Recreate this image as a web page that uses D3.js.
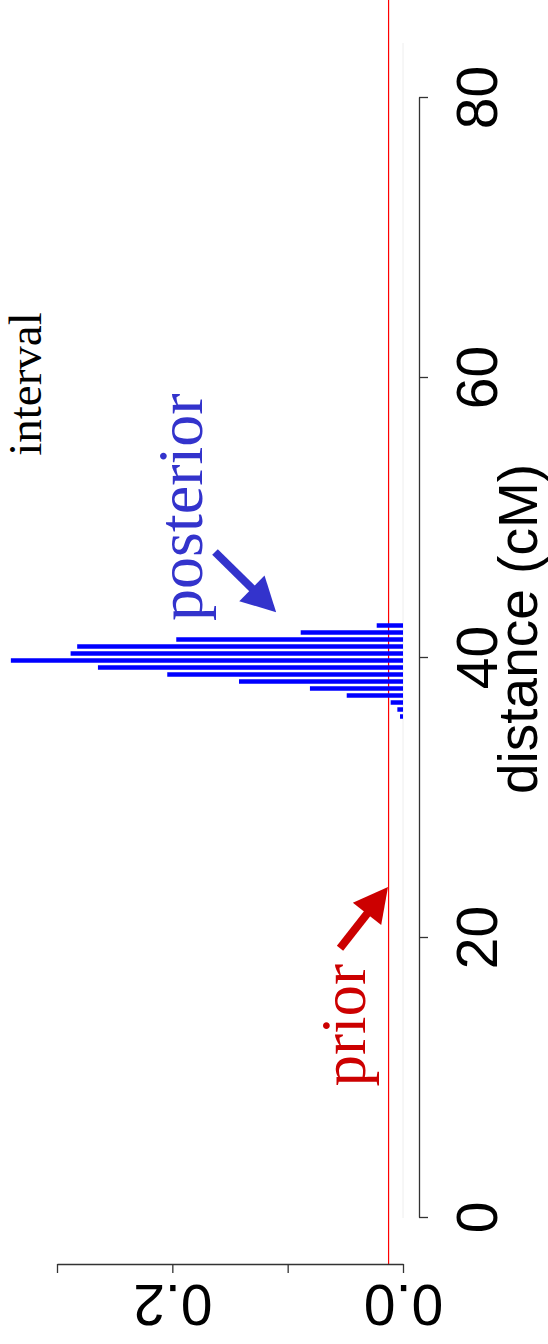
<!DOCTYPE html>
<html>
<head>
<meta charset="utf-8">
<script src="https://cdn.jsdelivr.net/npm/d3@7"></script>
<style>
  body { margin: 0; background: #fff; }
  svg { display: block; }
</style>
</head>
<body>
<svg id="chart" width="548" height="1344"></svg>
<script>
// posterior histogram, 0.5 cM bins (bin centres in cM)
const binCentres = [35.75, 36.25, 36.75, 37.25, 37.75, 38.25, 38.75, 39.25, 39.75, 40.25, 40.75, 41.25, 41.75, 42.25];
const posteriorDensity = [0.0026, 0.0049, 0.0107, 0.0488, 0.0807, 0.1422, 0.2044, 0.2645, 0.340, 0.2882, 0.2825, 0.1966, 0.0887, 0.0228];
// uniform prior over 0-80 cM
const priorDensity = 1 / 80;

const distanceTicks = [0, 20, 40, 60, 80];
const densityTicks = [0, 0.1, 0.2, 0.3];
const densityLabels = ["0.0", "", "0.2", ""];

// annotation arrows in data units: [density, distance]
const arrows = [
    { name: "prior", from: [0.0546, 19.2], to: [0.013, 23.57], color: "#cc0000" },
    { name: "posterior", from: [0.163, 47.5], to: [0.110, 43.2], color: "#3333cc" }
];
const labels = [
    { text: "prior", density: 0.033, distance: 13.7, color: "#cc0000", size: 63 },
    { text: "posterior", density: 0.174, distance: 50.7, color: "#3333cc", size: 64 },
    { text: "interval", density: 0.314, distance: 59.5, color: "#000", size: 47 }
];

let svg = d3.select("#chart");

// distance runs up the page, density runs to the left
let y = d3.scaleLinear().domain([0, 80]).range([1217, 97]);
let x = d3.scaleLinear().domain([0, 0.3]).range([403, 57]);

const axisX = 419;
const axisY = 1264;

// faint histogram baseline
svg.append("line")
    .attr("x1", x(0)).attr("x2", x(0))
    .attr("y1", 43).attr("y2", 1218)
    .attr("stroke", "#eeeeee")
    .attr("stroke-width", 1);

// prior line
svg.append("line")
    .attr("x1", x(priorDensity)).attr("x2", x(priorDensity))
    .attr("y1", 0).attr("y2", axisY)
    .attr("stroke", "#ff0000")
    .attr("stroke-width", 1.2);

// posterior bars
svg.append("g")
    .selectAll("line")
    .data(binCentres)
    .join("line")
    .attr("x1", x(0))
    .attr("x2", (d, i) => x(posteriorDensity[i]))
    .attr("y1", d => y(d))
    .attr("y2", d => y(d))
    .attr("stroke", "#0000ff")
    .attr("stroke-width", 4.5);

// distance axis
let gy = svg.append("g")
    .attr("transform", `translate(${axisX},0)`)
    .call(d3.axisRight(y).tickValues(distanceTicks).tickSize(9).tickSizeOuter(0).tickFormat(d3.format("d")));

gy.selectAll("text")
    .attr("x", 0).attr("dy", 0)
    .attr("transform", "translate(78,0) rotate(-90)")
    .attr("text-anchor", "middle")
    .style("font-family", "'Liberation Sans', Arial, sans-serif")
    .style("font-size", "57px")
    .attr("fill", "#000");

// density axis
let gx = svg.append("g")
    .attr("transform", `translate(0,${axisY})`)
    .call(d3.axisBottom(x).tickValues(densityTicks).tickSize(9).tickSizeOuter(0).tickFormat((d, i) => densityLabels[i]));

gx.selectAll("text")
    .attr("y", 0).attr("dy", 0)
    .attr("transform", "translate(0,21) rotate(180)")
    .attr("text-anchor", "middle")
    .style("font-family", "'Liberation Sans', Arial, sans-serif")
    .style("font-size", "57px")
    .attr("fill", "#000");

svg.selectAll(".domain, .tick line")
    .attr("stroke", "#333")
    .attr("stroke-width", 1.3);

// axis title
svg.append("text")
    .attr("transform", `translate(537,629) rotate(-90)`)
    .attr("text-anchor", "middle")
    .style("font-family", "'Liberation Sans', Arial, sans-serif")
    .style("font-size", "55px")
    .text("distance (cM)");

// annotation text
svg.append("g")
    .selectAll("text")
    .data(labels)
    .join("text")
    .attr("transform", d => `translate(${x(d.density)},${y(d.distance)}) rotate(-90)`)
    .attr("text-anchor", "middle")
    .attr("fill", d => d.color)
    .style("font-family", "'Liberation Serif', 'Times New Roman', serif")
    .style("font-size", d => d.size + "px")
    .text(d => d.text);

// annotation arrows
arrows.forEach(function(a) {
    let x0 = x(a.from[0]), y0 = y(a.from[1]);
    let x1 = x(a.to[0]), y1 = y(a.to[1]);
    let ang = Math.atan2(y1 - y0, x1 - x0);
    let headLen = 34, headHalf = 18;
    let bx = x1 - headLen * Math.cos(ang), by = y1 - headLen * Math.sin(ang);
    let px = -Math.sin(ang), py = Math.cos(ang);

    svg.append("line")
        .attr("x1", x0).attr("y1", y0)
        .attr("x2", bx + 2 * Math.cos(ang)).attr("y2", by + 2 * Math.sin(ang))
        .attr("stroke", a.color)
        .attr("stroke-width", 8);

    svg.append("polygon")
        .attr("points", [[x1, y1], [bx + px * headHalf, by + py * headHalf], [bx - px * headHalf, by - py * headHalf]].map(p => p.join(",")).join(" "))
        .attr("fill", a.color);
});
</script>
</body>
</html>
